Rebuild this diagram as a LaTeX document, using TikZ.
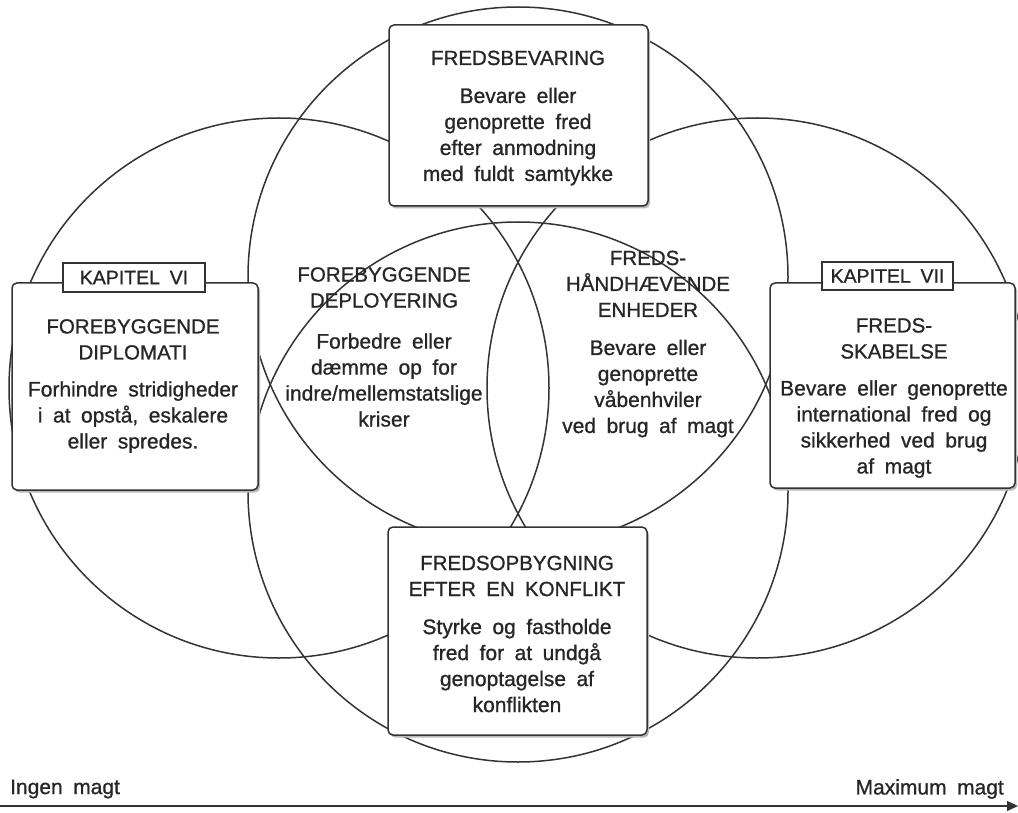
\documentclass[tikz,border=0pt]{standalone}
\usepackage{fontspec}
\setmainfont{Liberation Sans}
\newfontfamily\bodyfont[WordSpace=1.8,FakeBold=0.9]{Liberation Sans}
\usetikzlibrary{arrows.meta,shadows}
\definecolor{linec}{HTML}{333333}
\definecolor{textc}{HTML}{262626}
\newcommand{\ttl}{\fontsize{20.5}{26}\selectfont}
\begin{document}
\begin{tikzpicture}[x=1pt,y=-1pt,
  ring/.style={circle, draw=linec, line width=1.5pt, minimum size=540pt, inner sep=0pt},
  panel/.style={draw=linec, line width=1.5pt, fill=white, rounded corners=5pt,
    drop shadow={shadow xshift=2pt, shadow yshift=-2.5pt, fill=gray!55, opacity=1}},
  tag/.style={draw=linec, line width=1.5pt, fill=white, inner sep=0pt, text=textc,
    font=\bodyfont\fontsize{19.5}{24}\selectfont},
  txt/.style={text=textc, align=center, inner sep=0pt,
    font=\bodyfont\fontsize{21}{26}\selectfont},
  axis/.style={draw=linec, line width=1.5pt, -{Triangle[length=11pt,width=10pt]}}
]
\useasboundingbox (0,0) rectangle (1018,813);
% circles
\node[ring] (cL) at (279,388) {};
\node[ring] (cR) at (757,388) {};
\node[ring] (cT) at (518,277) {};
\node[ring] (cB) at (518,492) {};
% panels
\node[panel, minimum width=259pt, minimum height=181pt] (pT) at (518.5,115.5) {};
\node[panel, minimum width=246pt, minimum height=207pt] (pL) at (135,386.5) {};
\node[panel, minimum width=245pt, minimum height=205pt] (pR) at (892.5,385.5) {};
\node[panel, minimum width=259pt, minimum height=208pt] (pB) at (517.5,631) {};
% chapter tags
\node[tag, minimum width=142pt, minimum height=29pt] (kVI) at (134,277.5) {KAPITEL VI};
\node[tag, minimum width=131pt, minimum height=28pt] (kVII) at (887.5,276) {KAPITEL VII};
% texts
\node[txt] (tT) at (518,118) {{\ttl FREDSBEVARING}\\[12pt]Bevare eller\\genoprette fred\\efter anmodning\\med fuldt samtykke};
\node[txt] (tL) at (133,386) {{\ttl FOREBYGGENDE}\\{\ttl DIPLOMATI}\\[11pt]Forhindre stridigheder\\i at opstå, eskalere\\eller spredes.};
\node[txt] (tR) at (894,398) {{\ttl FREDS-}\\{\ttl SKABELSE}\\[11pt]Bevare eller genoprette\\international fred og\\sikkerhed ved brug\\af magt};
\node[txt] (tB) at (517,634) {{\ttl FREDSOPBYGNING}\\{\ttl EFTER EN KONFLIKT}\\[12pt]Styrke og fastholde\\fred for at undgå\\genoptagelse af\\konflikten};
\node[txt] (tML) at (384,347) {{\ttl FOREBYGGENDE}\\{\ttl DEPLOYERING}\\[15pt]Forbedre eller\\dæmme op for\\indre/mellemstatslige\\kriser};
\node[txt] (tMR) at (648,344) {{\ttl FREDS-}\\{\ttl HÅNDHÆVENDE}\\{\ttl ENHEDER}\\[12pt]Bevare eller\\genoprette\\våbenhviler\\ved brug af magt};
% axis
\node[txt, anchor=west] (lo) at (10,789) {Ingen magt};
\node[txt, anchor=east] (hi) at (1004,789) {Maximum magt};
\coordinate (ax0) at (0,806);
\coordinate (ax1) at (1018,806);
\draw[axis] (ax0) -- (ax1);
\end{tikzpicture}
\end{document}
